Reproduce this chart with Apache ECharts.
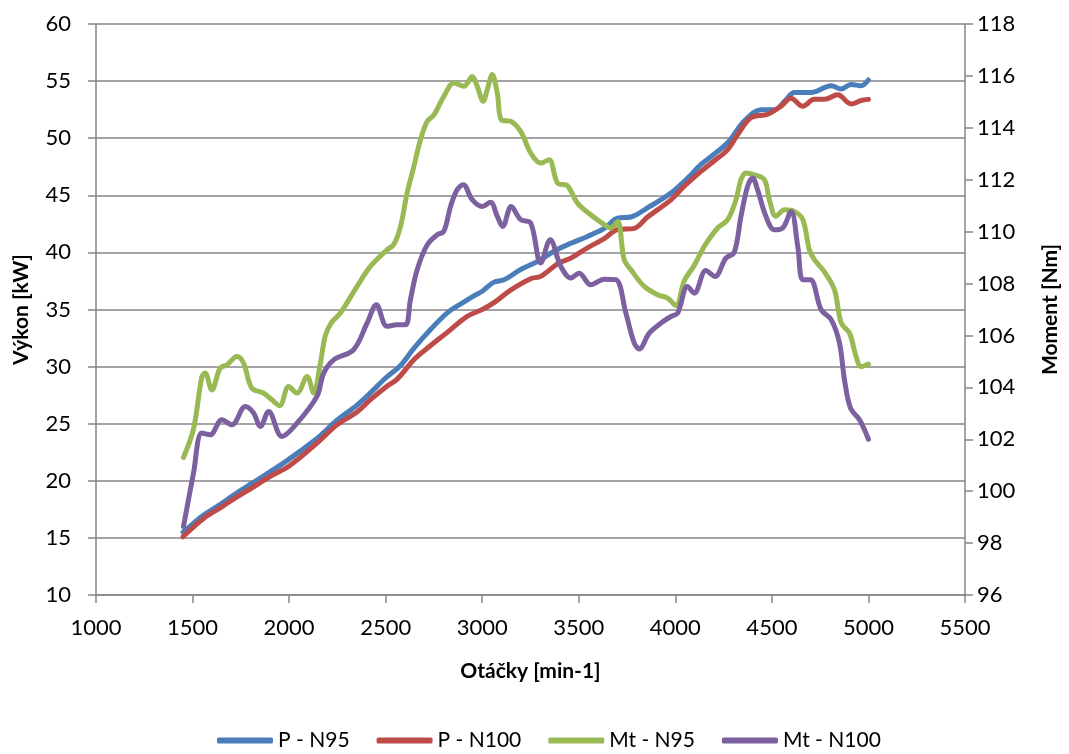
<!DOCTYPE html>
<html>
<head>
<meta charset="utf-8">
<script src="https://cdn.jsdelivr.net/npm/echarts@6/dist/echarts.min.js"></script>
<style>
  html, body { margin: 0; padding: 0; background: #fff; }
  #chart { width: 1069px; height: 754px; }
</style>
</head>
<body>
<div id="chart"></div>
<script>
// Výkon (kW) – N95
const rpmPN95 = [1450, 1500, 1557, 1650, 1730, 1800, 1903, 2000, 2144, 2248, 2350, 2421, 2500, 2577, 2646, 2730, 2819, 2900, 2957, 3000, 3061, 3113, 3199, 3286, 3372, 3459, 3545, 3632, 3701, 3770, 3856, 3977, 4064, 4133, 4200, 4271, 4357, 4444, 4513, 4570, 4616, 4703, 4807, 4859, 4910, 4962, 5000];
const pN95 = [15.5, 16.2, 17.0, 18.0, 18.95, 19.7, 20.8, 21.9, 23.7, 25.3, 26.6, 27.7, 29.0, 30.1, 31.6, 33.2, 34.7, 35.6, 36.2, 36.6, 37.4, 37.6, 38.5, 39.2, 40.1, 40.8, 41.4, 42.1, 43.0, 43.1, 43.9, 45.2, 46.5, 47.7, 48.6, 49.6, 51.5, 52.5, 52.5, 53.3, 54.0, 54.0, 54.6, 54.3, 54.7, 54.6, 55.1];

// Výkon (kW) – N100
const rpmPN100 = [1450, 1557, 1650, 1730, 1800, 1903, 2000, 2144, 2248, 2350, 2421, 2500, 2560, 2646, 2730, 2819, 2922, 3000, 3061, 3147, 3251, 3303, 3390, 3459, 3545, 3632, 3701, 3787, 3856, 3977, 4046, 4133, 4200, 4271, 4330, 4392, 4478, 4547, 4599, 4660, 4720, 4772, 4841, 4910, 4962, 5000];
const pN100 = [15.1, 16.7, 17.7, 18.6, 19.3, 20.4, 21.3, 23.3, 24.9, 26.0, 27.1, 28.2, 28.9, 30.6, 31.8, 33.0, 34.4, 35.0, 35.6, 36.7, 37.7, 37.9, 39.0, 39.5, 40.4, 41.2, 42.0, 42.1, 43.1, 44.6, 45.8, 47.1, 48.0, 49.0, 50.5, 51.8, 52.1, 52.8, 53.5, 52.8, 53.4, 53.4, 53.8, 53.0, 53.3, 53.4];

// Moment (Nm) – N95
const rpmMtN95 = [1453, 1505, 1548, 1565, 1600, 1643, 1678, 1730, 1764, 1807, 1868, 1911, 1951, 1998, 2041, 2093, 2127, 2162, 2188, 2220, 2265, 2352, 2421, 2507, 2542, 2577, 2611, 2646, 2680, 2715, 2750, 2801, 2853, 2905, 2948, 2974, 3005, 3026, 3052, 3078, 3100, 3147, 3199, 3251, 3303, 3346, 3390, 3441, 3493, 3562, 3632, 3666, 3701, 3735, 3770, 3839, 3908, 3960, 4003, 4046, 4098, 4150, 4219, 4271, 4314, 4340, 4366, 4409, 4461, 4487, 4521, 4565, 4616, 4660, 4694, 4720, 4772, 4824, 4859, 4902, 4936, 4962, 5000];
const mtN95 = [101.3, 102.4, 104.4, 104.55, 103.9, 104.74, 104.87, 105.19, 104.94, 103.97, 103.78, 103.52, 103.3, 104.03, 103.78, 104.42, 103.78, 104.94, 106.0, 106.5, 106.86, 107.89, 108.66, 109.3, 109.5, 110.2, 111.49, 112.51, 113.54, 114.25, 114.5, 115.21, 115.73, 115.6, 115.98, 115.6, 115.02, 115.47, 116.05, 115.34, 114.3, 114.25, 113.86, 113.03, 112.64, 112.77, 111.87, 111.77, 111.1, 110.65, 110.27, 110.14, 110.39, 108.92, 108.53, 107.89, 107.57, 107.44, 107.15, 108.1, 108.7, 109.43, 110.14, 110.46, 111.23, 112.0, 112.26, 112.19, 112.0, 111.23, 110.59, 110.84, 110.78, 110.46, 109.3, 108.92, 108.45, 107.76, 106.48, 106.09, 105.19, 104.8, 104.9];

// Moment (Nm) – N100
const rpmMtN100 = [1453, 1505, 1548, 1591, 1652, 1704, 1773, 1816, 1851, 1894, 1963, 2041, 2144, 2179, 2231, 2334, 2404, 2452, 2507, 2559, 2603, 2628, 2663, 2715, 2767, 2801, 2836, 2870, 2902, 2948, 3000, 3043, 3078, 3106, 3150, 3199, 3251, 3303, 3352, 3407, 3459, 3502, 3562, 3632, 3692, 3744, 3787, 3813, 3865, 3926, 3977, 4012, 4063, 4098, 4158, 4205, 4262, 4305, 4340, 4374, 4400, 4426, 4469, 4513, 4556, 4599, 4634, 4660, 4699, 4755, 4807, 4850, 4876, 4907, 4954, 5000];
const mtN100 = [98.64, 100.7, 102.24, 102.17, 102.75, 102.56, 103.26, 103.01, 102.49, 103.07, 102.11, 102.62, 103.65, 104.55, 105.06, 105.45, 106.48, 107.18, 106.35, 106.41, 106.41, 107.37, 108.53, 109.49, 109.88, 110.01, 110.97, 111.61, 111.81, 111.23, 110.97, 111.13, 110.59, 110.2, 110.97, 110.46, 110.33, 108.79, 109.69, 108.66, 108.21, 108.4, 107.95, 108.17, 108.15, 106.86, 105.71, 105.48, 106.09, 106.48, 106.73, 106.86, 107.89, 107.63, 108.5, 108.27, 108.98, 109.2, 110.59, 111.74, 112.07, 111.61, 110.59, 110.07, 110.14, 110.78, 109.43, 108.15, 108.15, 106.99, 106.61, 105.71, 104.29, 103.2, 102.75, 102.0];

// Axis ranges and labels
const xTicks = { min: 1000, max: 5500, step: 500 };
const powerTicks = { min: 10, max: 60, step: 5 };
const torqueTicks = { min: 96, max: 118, step: 2 };
const seriesNames = ['P - N95', 'P - N100', 'Mt - N95', 'Mt - N100'];
const xTitle = 'Otáčky [min-1]';
const powerTitle = 'Výkon [kW]';
const torqueTitle = 'Moment [Nm]';

const colors = ['#4A7EBB', '#BE4B48', '#98B954', '#7D60A0'];
const FONT = 'Lato';
const axisGray = '#868686';
const labelStyle = { fontFamily: FONT, fontSize: 22, color: '#000' };
const titleStyle = { fontFamily: FONT, fontSize: 21, fontWeight: 'bold', color: '#000' };

const pairs = (xs, ys) => xs.map((x, i) => [x, ys[i]]);

function lineSeries(name, data, yAxisIndex, color) {
  return {
    name, type: 'line', data, yAxisIndex,
    smooth: 0.35, showSymbol: false, symbol: 'none',
    lineStyle: { width: 5, color, cap: 'round', join: 'round' },
    itemStyle: { color },
    animation: false
  };
}

const chart = echarts.init(document.getElementById('chart'), null, { renderer: 'canvas' });
chart.setOption({
  animation: false,
  backgroundColor: '#ffffff',
  grid: { left: 96, right: 104, top: 24, bottom: 159, containLabel: false },
  legend: {
    data: seriesNames,
    bottom: -2,
    left: 212,
    icon: 'roundRect',
    itemWidth: 56,
    itemHeight: 6,
    itemGap: 27,
    textStyle: { fontFamily: FONT, fontSize: 21, color: '#000' }
  },
  xAxis: {
    type: 'value',
    min: xTicks.min, max: xTicks.max, interval: xTicks.step,
    name: xTitle,
    nameLocation: 'middle',
    nameGap: 66,
    nameTextStyle: titleStyle,
    axisLine: { lineStyle: { color: axisGray, width: 1.5 } },
    axisTick: { show: true, inside: false, length: 8, lineStyle: { color: axisGray, width: 1.5 } },
    axisLabel: Object.assign({ margin: 22, formatter: v => String(v) }, labelStyle),
    splitLine: { show: false }
  },
  yAxis: [
    {
      type: 'value',
      min: powerTicks.min, max: powerTicks.max, interval: powerTicks.step,
      name: powerTitle,
      nameLocation: 'middle',
      nameGap: 64,
      nameRotate: 90,
      nameTextStyle: titleStyle,
      axisLine: { show: true, lineStyle: { color: axisGray, width: 1.5 } },
      axisTick: { show: true, inside: false, length: 8, lineStyle: { color: axisGray, width: 1.5 } },
      axisLabel: Object.assign({ margin: 25, formatter: v => String(v) }, labelStyle),
      splitLine: { show: true, lineStyle: { color: axisGray, width: 1.5 } }
    },
    {
      type: 'value',
      position: 'right',
      min: torqueTicks.min, max: torqueTicks.max, interval: torqueTicks.step,
      name: torqueTitle,
      nameLocation: 'middle',
      nameGap: 75,
      nameRotate: 90,
      nameTextStyle: titleStyle,
      axisLine: { show: true, lineStyle: { color: axisGray, width: 1.5 } },
      axisTick: { show: true, inside: false, length: 8, lineStyle: { color: axisGray, width: 1.5 } },
      axisLabel: Object.assign({ margin: 12, formatter: v => String(v) }, labelStyle),
      splitLine: { show: false }
    }
  ],
  series: [
    lineSeries(seriesNames[0], pairs(rpmPN95, pN95), 0, colors[0]),
    lineSeries(seriesNames[1], pairs(rpmPN100, pN100), 0, colors[1]),
    lineSeries(seriesNames[2], pairs(rpmMtN95, mtN95), 1, colors[2]),
    lineSeries(seriesNames[3], pairs(rpmMtN100, mtN100), 1, colors[3])
  ]
});
</script>
</body>
</html>
